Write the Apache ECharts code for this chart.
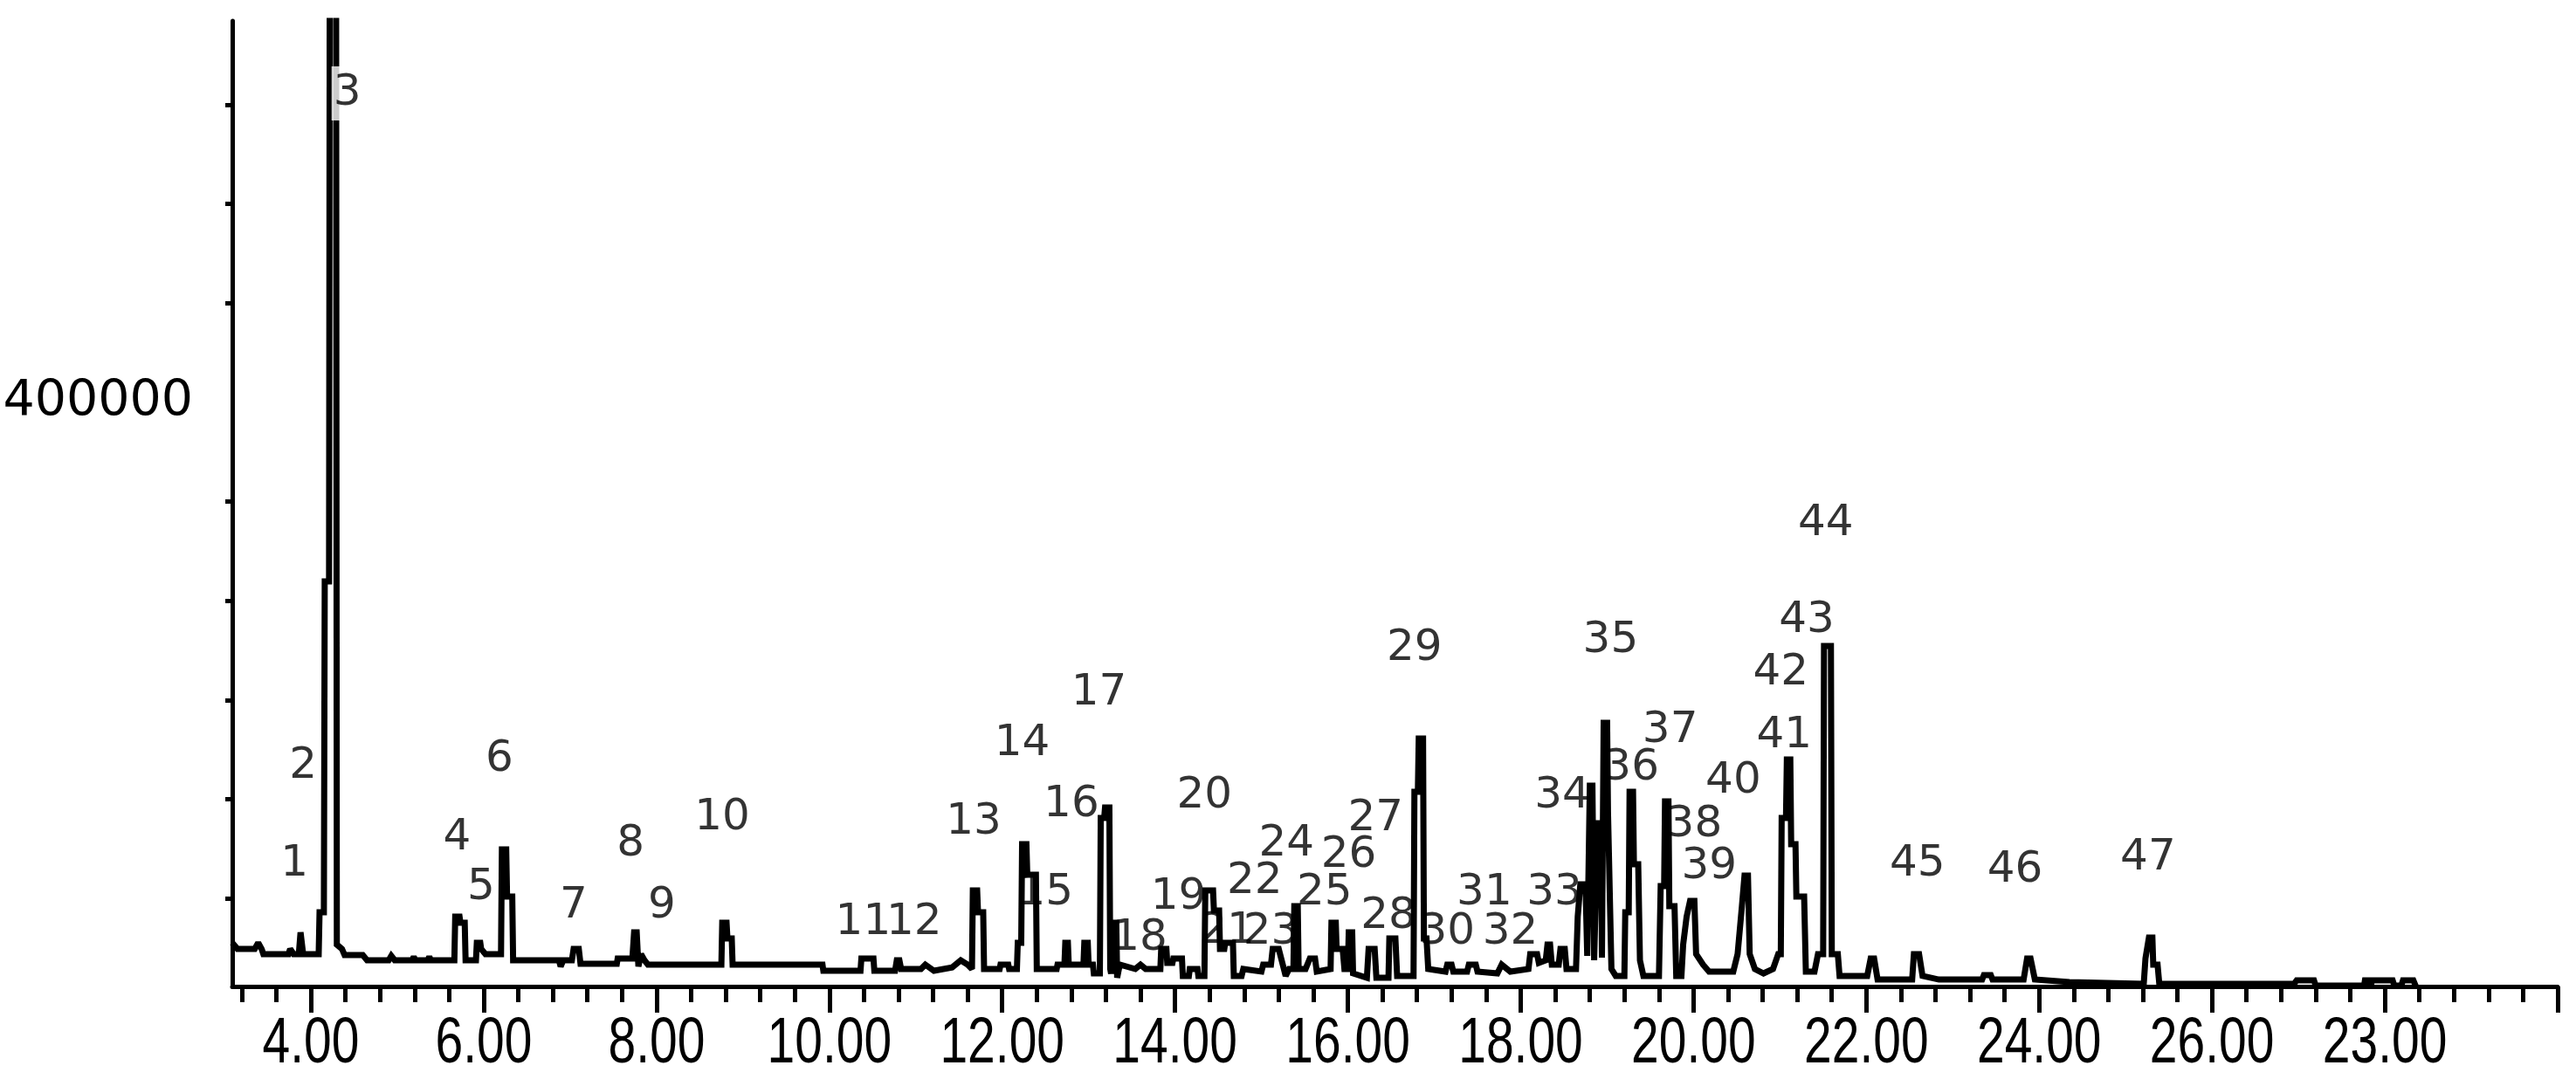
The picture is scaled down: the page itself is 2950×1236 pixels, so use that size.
<!DOCTYPE html>
<html>
<head>
<meta charset="utf-8">
<script src="https://cdn.jsdelivr.net/npm/echarts@6/dist/echarts.min.js"></script>
<style>
  html, body { margin: 0; padding: 0; background: #fff; }
  #chart { width: 2950px; height: 1236px; }
</style>
</head>
<body>
<div id="chart"></div>
<script>
// retention time (min) and abundance of the TIC trace
const rt = [
  3.09, 3.11, 3.15, 3.35, 3.39, 3.43, 3.45, 3.74, 3.76, 3.80, 3.86, 3.88, 3.91, 4.09, 4.10, 4.15, 4.16, 4.21, 4.22, 4.29,
  4.30, 4.32, 4.36, 4.39, 4.60, 4.65, 4.90, 4.93, 4.97, 5.17, 5.19, 5.21, 5.35, 5.37, 5.39, 5.66, 5.67, 5.72, 5.73, 5.78,
  5.79, 5.91, 5.92, 5.96, 5.97, 6.02, 6.20, 6.21, 6.26, 6.27, 6.33, 6.34, 6.87, 6.89, 6.92, 7.02, 7.04, 7.10, 7.12, 7.54,
  7.55, 7.72, 7.74, 7.77, 7.79, 7.82, 7.86, 7.90, 8.75, 8.76, 8.81, 8.82, 8.87, 8.88, 9.92, 9.93, 10.36, 10.37, 10.51, 10.52,
  10.76, 10.78, 10.81, 10.83, 11.06, 11.11, 11.21, 11.42, 11.52, 11.60, 11.65, 11.66, 11.71, 11.72, 11.78, 11.79, 11.97, 11.98, 12.07, 12.08,
  12.17, 12.18, 12.22, 12.23, 12.28, 12.29, 12.39, 12.40, 12.63, 12.64, 12.72, 12.73, 12.76, 12.77, 12.94, 12.95, 12.99, 13.00, 13.05, 13.06,
  13.13, 13.14, 13.18, 13.19, 13.24, 13.25, 13.26, 13.27, 13.32, 13.33, 13.36, 13.54, 13.60, 13.66, 13.83, 13.84, 13.90, 13.91, 13.97, 13.98,
  14.08, 14.09, 14.16, 14.17, 14.26, 14.27, 14.34, 14.35, 14.44, 14.45, 14.51, 14.52, 14.57, 14.58, 14.67, 14.68, 14.77, 14.79, 15.00, 15.02,
  15.11, 15.13, 15.20, 15.26, 15.28, 15.32, 15.37, 15.38, 15.42, 15.43, 15.51, 15.56, 15.62, 15.64, 15.80, 15.81, 15.86, 15.87, 15.94, 15.96,
  16.00, 16.01, 16.05, 16.06, 16.22, 16.24, 16.31, 16.33, 16.47, 16.48, 16.55, 16.57, 16.76, 16.77, 16.81, 16.82, 16.87, 16.88, 16.91, 16.93,
  17.13, 17.15, 17.20, 17.22, 17.38, 17.40, 17.48, 17.50, 17.73, 17.78, 17.88, 18.09, 18.11, 18.19, 18.21, 18.29, 18.31, 18.34, 18.36, 18.44,
  18.46, 18.51, 18.53, 18.64, 18.66, 18.69, 18.75, 18.77, 18.80, 18.83, 18.85, 18.89, 18.93, 18.94, 18.96, 19.00, 19.01, 19.05, 19.10, 19.20,
  19.21, 19.25, 19.26, 19.30, 19.31, 19.36, 19.38, 19.42, 19.60, 19.62, 19.66, 19.67, 19.71, 19.72, 19.78, 19.80, 19.86, 19.88, 19.92, 19.96,
  20.01, 20.03, 20.11, 20.18, 20.46, 20.51, 20.56, 20.59, 20.63, 20.65, 20.71, 20.81, 20.92, 20.98, 21.01, 21.02, 21.07, 21.08, 21.12, 21.13,
  21.18, 21.19, 21.28, 21.30, 21.40, 21.44, 21.50, 21.51, 21.59, 21.60, 21.67, 21.69, 22.01, 22.05, 22.09, 22.13, 22.53, 22.55, 22.61, 22.65,
  22.84, 23.34, 23.36, 23.44, 23.46, 23.82, 23.86, 23.90, 23.95, 24.35, 25.21, 25.23, 25.27, 25.31, 25.32, 25.37, 25.39, 26.95, 26.98, 27.18,
  27.20, 27.76, 27.77, 27.81, 27.84, 27.85, 28.09, 28.11, 28.19, 28.21, 28.33, 28.36
]
const abundance = [
  127600, 127600, 124500, 124500, 127600, 124500, 121900, 121900, 124500, 121900, 121900, 132900, 121900, 121900, 143000, 143000, 309800, 309800, 700000, 700000,
  126700, 126700, 124500, 121400, 121400, 118800, 118800, 121000, 118800, 118800, 120500, 118800, 118800, 120500, 118800, 118800, 140800, 140800, 137700, 137700,
  118800, 118800, 127600, 127600, 124500, 121900, 121900, 174700, 174700, 150900, 150900, 118800, 118800, 115700, 118800, 118800, 124500, 124500, 117000, 117000,
  119700, 119700, 132900, 132900, 115700, 121900, 118800, 116600, 116600, 137700, 137700, 129800, 129800, 116600, 116600, 113500, 113500, 119700, 119700, 113500,
  113500, 118800, 118800, 114400, 114400, 116600, 113500, 115200, 118800, 116600, 114400, 154000, 154000, 143000, 143000, 114400, 114400, 116600, 116600, 114400,
  114400, 127600, 127600, 177300, 177300, 161900, 161900, 114400, 114400, 116600, 116600, 127600, 127600, 116600, 116600, 127600, 127600, 116600, 116600, 112200,
  112200, 190500, 190500, 195800, 195800, 114400, 112000, 137700, 137700, 110000, 116600, 114400, 116600, 114400, 114400, 124500, 124500, 117500, 117500, 119700,
  119700, 110900, 110900, 114400, 114400, 110900, 110900, 154000, 154000, 143900, 143900, 124500, 124500, 127600, 127600, 110900, 110900, 114400, 113100, 116600,
  116600, 124500, 124500, 114400, 110900, 114400, 114400, 146100, 146100, 114400, 114400, 119700, 119700, 113100, 114400, 137700, 137700, 124500, 124500, 114400,
  114400, 132900, 132900, 112200, 110000, 124500, 124500, 110000, 110000, 129800, 129800, 110900, 110900, 203700, 203700, 230600, 230600, 129800, 129800, 114400,
  113100, 116600, 116600, 113100, 113100, 116600, 116600, 113100, 112200, 116600, 113100, 114400, 121900, 121900, 117500, 118800, 126700, 126700, 116600, 116600,
  124500, 124500, 114400, 114400, 140800, 157100, 157100, 121000, 206800, 206800, 118800, 187900, 187900, 120100, 238500, 238500, 193600, 114400, 110900, 110900,
  143000, 143000, 203700, 203700, 167200, 167200, 118800, 110900, 110900, 156200, 156200, 198900, 198900, 146100, 146100, 110900, 110900, 126700, 140800, 148700,
  148700, 121900, 116600, 113100, 113100, 121900, 146100, 161500, 161500, 121900, 114400, 112200, 114400, 121900, 121900, 190500, 190500, 220000, 220000, 177300,
  177300, 150900, 150900, 113100, 113100, 121900, 121900, 277200, 277200, 121900, 121900, 110900, 110900, 119700, 119700, 109100, 109100, 121900, 121900, 110900,
  109100, 109100, 111300, 111300, 109100, 109100, 119700, 119700, 109100, 107800, 106900, 119700, 130200, 130200, 116600, 116600, 106900, 106900, 108700, 108700,
  106000, 106000, 108700, 108700, 106000, 108700, 108700, 106000, 106000, 108700, 108700, 105600
]

// peak numbers and where their labels sit (time, abundance)
const peakIds = [
  '1', '2', '3', '4', '5', '6', '7', '8', '9', '10', '11', '12', '13', '14', '15', '16',
  '17', '18', '19', '20', '21', '22', '23', '24', '25', '26', '27', '28', '29', '30', '31', '32',
  '33', '34', '35', '36', '37', '38', '39', '40', '41', '42', '43', '44', '45', '46', '47'
]
const peakLabelRt = [
  3.81, 3.91, 4.42, 5.69, 5.97, 6.18, 7.04, 7.70, 8.06, 8.76, 10.39, 10.98, 11.67, 12.23, 12.50, 12.80,
  13.12, 13.59, 14.04, 14.34, 14.60, 14.92, 15.11, 15.29, 15.73, 16.01, 16.32, 16.47, 16.77, 17.15, 17.58, 17.88,
  18.39, 18.48, 19.04, 19.28, 19.73, 20.01, 20.18, 20.46, 21.05, 21.01, 21.31, 21.53, 22.59, 23.72, 25.26
]
const peakLabelAbund = [
  167200, 216500, 555800, 180400, 155300, 220000, 146100, 177300, 146100, 190500, 137700, 137700, 188300, 227900, 152700, 197100,
  253400, 129800, 150500, 201500, 133300, 158400, 132900, 177300, 152700, 171600, 190100, 140800, 275900, 132900, 152700, 132900,
  152700, 201500, 279900, 215600, 234500, 187000, 165900, 209000, 231900, 263600, 290000, 338800, 167200, 164100, 170300
]

// axis ticks and labels
const xMajorTicks = [4, 6, 8, 10, 12, 14, 16, 18, 20, 22, 24, 26, 28, 30]
const xLabelValues = [4, 6, 8, 10, 12, 14, 16, 18, 20, 22, 24, 26, 28]
const xLabelTexts = ['4.00', '6.00', '8.00', '10.00', '12.00', '14.00', '16.00', '18.00', '20.00', '22.00', '24.00', '26.00', '23.00']
const yTicks = [150000, 200000, 250000, 300000, 350000, 450000, 500000, 550000]
const yLabelValues = [400000]

const X_MIN = 3.09
const X_MAX = 30
const Y_MIN = 105600
const Y_MAX = 592300

// minor ticks every 0.4 min, skipping the major ones
const xMinorTicks = []
for (let k = 8; k <= 75; k++) {
  if (k % 5 !== 0) xMinorTicks.push(Math.round(k * 0.4 * 100) / 100)
}

const chart = echarts.init(document.getElementById('chart'), null, { renderer: 'canvas' })

const traceData = rt.map((t, i) => [t, abundance[i]])
const labelData = peakIds.map((id, i) => {
  const item = { name: id, value: [peakLabelRt[i], peakLabelAbund[i]] }
  // label 3 sits on the off-scale peak and blanks it out
  if (id === '3') {
    item.label = { backgroundColor: '#fff', padding: [6, 2] }
  }
  return item
})

chart.setOption({
  animation: false,
  backgroundColor: '#fff',
  grid: { left: 266, right: 21, top: 24, bottom: 106 },
  xAxis: [
    {
      type: 'value',
      min: X_MIN,
      max: X_MAX,
      axisLine: { show: true, onZero: false, lineStyle: { color: '#000', width: 5 } },
      axisTick: { show: true, customValues: xMajorTicks, length: 30, lineStyle: { color: '#000', width: 5 } },
      // labels are drawn below as narrow text, the axis fonts are too wide
      axisLabel: { show: false },
      splitLine: { show: false },
    },
    {
      type: 'value',
      position: 'bottom',
      min: X_MIN,
      max: X_MAX,
      axisLine: { show: false, onZero: false },
      axisTick: { show: true, customValues: xMinorTicks, length: 18, lineStyle: { color: '#000', width: 5 } },
      axisLabel: { show: false },
      splitLine: { show: false },
    },
  ],
  yAxis: {
    type: 'value',
    min: Y_MIN,
    max: Y_MAX,
    axisLine: { show: true, onZero: false, lineStyle: { color: '#000', width: 5 } },
    axisTick: { show: true, customValues: yTicks, length: 8, lineStyle: { color: '#000', width: 5 } },
    axisLabel: {
      show: true,
      customValues: yLabelValues,
      margin: 45,
      color: '#000',
      fontFamily: '"DejaVu Sans", sans-serif',
      fontSize: 57,
      formatter: (val) => String(val),
    },
    splitLine: { show: false },
  },
  series: [
    {
      type: 'line',
      data: traceData,
      xAxisIndex: 0,
      showSymbol: false,
      symbol: 'none',
      clip: true,
      lineStyle: { color: '#000', width: 7, join: 'miter', miterLimit: 2 },
      z: 2,
    },
    {
      type: 'scatter',
      data: labelData,
      xAxisIndex: 0,
      symbolSize: 0,
      z: 5,
      label: {
        show: true,
        position: 'inside',
        formatter: p => p.name,
        color: '#000',
        fontFamily: '"DejaVu Sans", sans-serif',
        fontSize: 50,
      },
    },
  ],
})

// x tick labels, squeezed horizontally, placed through the axis scale
const axisY = chart.convertToPixel({ yAxisIndex: 0 }, Y_MIN)
chart.setOption({
  graphic: xLabelValues.map((v, i) => ({
    type: 'text',
    x: chart.convertToPixel({ xAxisIndex: 0 }, v),
    y: axisY + 67,
    scaleX: 0.77,
    silent: true,
    style: {
      text: xLabelTexts[i],
      fill: '#000',
      font: '74px "Liberation Sans", Arial, sans-serif',
      align: 'center',
      verticalAlign: 'middle',
    },
  })),
})
</script>
</body>
</html>
